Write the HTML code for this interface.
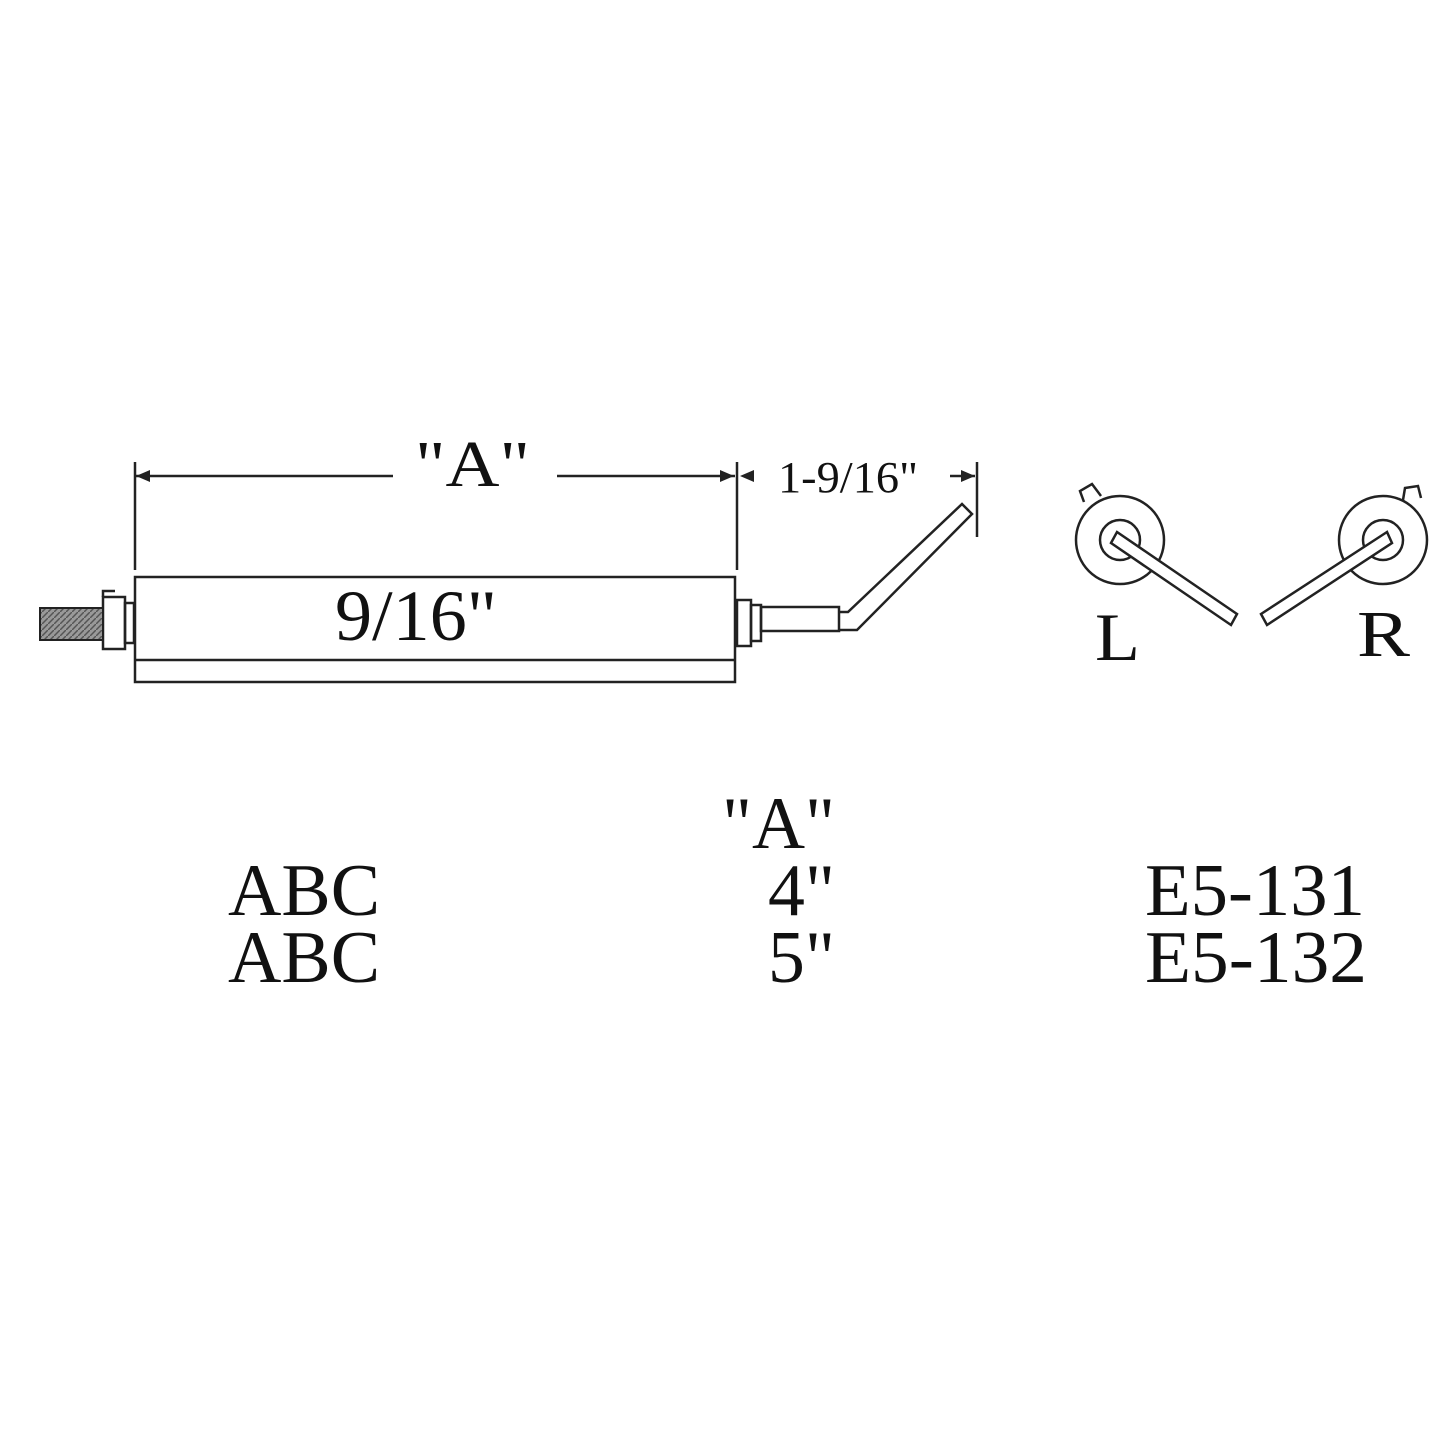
<!DOCTYPE html>
<html><head><meta charset="utf-8"><style>html,body{margin:0;padding:0;background:#fff}svg{display:block}</style></head>
<body>
<svg width="1445" height="1445" viewBox="0 0 1445 1445" xmlns="http://www.w3.org/2000/svg" font-family="Liberation Serif, serif" fill="#111">
<defs>
<pattern id="h" width="6" height="6" patternUnits="userSpaceOnUse"><rect width="6" height="6" fill="#999"/><path d="M0 6L6 0" stroke="#555" stroke-width="1.5"/></pattern>
</defs>
<g stroke="#222" stroke-width="2.5" fill="none">
<line x1="135" y1="462" x2="135" y2="570"/>
<line x1="737" y1="462" x2="737" y2="570"/>
<line x1="135" y1="476" x2="393" y2="476"/>
<line x1="557" y1="476" x2="735" y2="476"/>
<line x1="977" y1="462" x2="977" y2="537"/>
<line x1="950" y1="476" x2="975" y2="476"/>
<rect x="135" y="577" width="600" height="105"/>
<line x1="135" y1="660" x2="735" y2="660"/>
<rect x="103" y="597" width="22" height="52"/>
<rect x="125" y="603" width="9" height="40"/>
<path d="M103 597 V591 H115"/>
<rect x="737" y="600" width="14" height="46"/>
<rect x="751" y="605" width="10" height="36"/>
<rect x="761" y="607" width="78" height="24"/>
<path d="M839 612 H848 L962 504 L972 514 L857 630 H839"/>
</g>
<rect x="40" y="608" width="63" height="32" fill="url(#h)" stroke="#222" stroke-width="2"/>
<g fill="#222">
<path d="M136 476 L150 470 L150 482Z"/>
<path d="M734 476 L720 470 L720 482Z"/>
<path d="M740 476 L754 470 L754 482Z"/>
<path d="M975 476 L961 470 L961 482Z"/>
</g>
<g stroke="#222" stroke-width="2.5" fill="none">
<circle cx="1120" cy="540" r="44"/>
<circle cx="1120" cy="540" r="20"/>
<path d="M1084 502 L1080 491 L1092 484 L1101 496"/>
<path d="M1117 532 L1237 614 L1231 625 L1111 543Z" fill="#fff"/>
<circle cx="1383" cy="540" r="44"/>
<circle cx="1383" cy="540" r="20"/>
<path d="M1403 500 L1405 488 L1418 486 L1421 498"/>
<path d="M1387 532 L1261 614 L1267 625 L1392 543Z" fill="#fff"/>
</g>
<text x="415" y="486" font-size="66" textLength="115" lengthAdjust="spacingAndGlyphs">"A"</text>
<text x="778" y="492" font-size="44" textLength="140" lengthAdjust="spacingAndGlyphs">1-9/16"</text>
<text x="335" y="640" font-size="72" textLength="162" lengthAdjust="spacingAndGlyphs">9/16"</text>
<text x="1095" y="660" font-size="68" textLength="45" lengthAdjust="spacingAndGlyphs">L</text>
<text x="1357" y="656" font-size="66" textLength="53" lengthAdjust="spacingAndGlyphs">R</text>
<g font-size="74">
<text x="722" y="848" textLength="113" lengthAdjust="spacingAndGlyphs">"A"</text>
<text x="228" y="915" textLength="152" lengthAdjust="spacingAndGlyphs">ABC</text>
<text x="768" y="915" textLength="67" lengthAdjust="spacingAndGlyphs">4"</text>
<text x="1145" y="915" textLength="220" lengthAdjust="spacingAndGlyphs">E5-131</text>
<text x="228" y="982" textLength="152" lengthAdjust="spacingAndGlyphs">ABC</text>
<text x="768" y="982" textLength="67" lengthAdjust="spacingAndGlyphs">5"</text>
<text x="1145" y="982" textLength="222" lengthAdjust="spacingAndGlyphs">E5-132</text>
</g>
</svg>
</body></html>
